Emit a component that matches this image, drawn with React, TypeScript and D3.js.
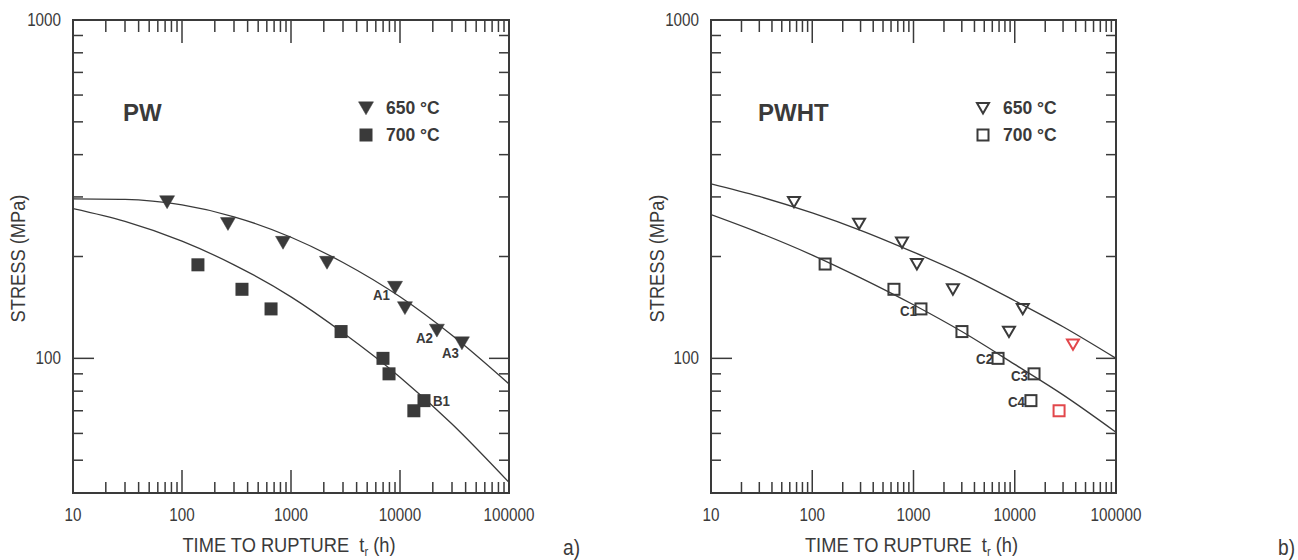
import React, { useEffect, useRef } from 'react';
import * as d3 from 'd3';

// axis ticks
const majorTimes = [10, 100, 1000, 10000, 100000];
const majorStress = [100, 1000];

// fitted curves at these times
const curveTimes = [10, 30, 100, 300, 1000, 3000, 10000, 30000, 100000];
const pwCurve650 = [296, 295, 284, 262, 228, 192, 152, 117, 84];
const pwCurve700 = [277, 254, 222, 189, 152, 119, 88, 64, 43];
const pwhtCurve650 = [328, 301, 269, 239, 206, 178, 148, 124, 100];
const pwhtCurve700 = [266, 235, 202, 173, 144, 120, 96, 78, 60.5];

// PW test points
const pwTime650 = [73, 264, 845, 2140, 9000, 11100, 21800, 37000];
const pwStress650 = [290, 250, 220, 192, 162, 141, 121, 111];
const pwLabel650 = ['', '', '', '', 'A1', '', 'A2', 'A3'];
const pwTime700 = [140, 355, 656, 2880, 6980, 7930, 16600, 13400];
const pwStress700 = [189, 160, 140, 120, 100, 90, 75, 70];
const pwLabel700 = ['', '', '', '', '', '', 'B1', ''];

// PWHT test points
const pwhtTime650 = [66, 290, 770, 1080, 2450, 8770, 12000, 37600];
const pwhtStress650 = [290, 250, 220, 190, 160, 120, 140, 110];
const pwhtRed650 = [false, false, false, false, false, false, false, true];
const pwhtTime700 = [134, 641, 1185, 3010, 6840, 15500, 14450, 27400];
const pwhtStress700 = [190, 160, 140, 120, 100, 90, 75, 70];
const pwhtLabel700 = ['', '', 'C1', '', 'C2', 'C3', 'C4', ''];
const pwhtRed700 = [false, false, false, false, false, false, false, true];

const INK = '#3a3a3a';
const RED = '#e2474b';
const FONT = '"Liberation Sans", Arial, sans-serif';

// label offsets from the point centre
const labelPos = {
  A1: [-5, 13, 'end'], A2: [-4, 13, 'end'], A3: [-3, 15, 'end'], B1: [9, 5, 'start'],
  C1: [-4, 7, 'end'], C2: [-5, 6, 'end'], C3: [-6, 7, 'end'], C4: [-6, 6, 'end'],
};

const triDown = (s) => `M${-s},${-s * 0.82}L${s},${-s * 0.82}L0,${s * 0.9}Z`;

// narrow-looking text: normal face squeezed horizontally
function narrowText(g, x, y, size, anchor, txt, rotate = 0) {
  const t = g.append('g')
    .attr('transform', `translate(${x},${y}) rotate(${rotate}) scale(0.87,1)`)
    .append('text')
    .attr('text-anchor', anchor)
    .attr('font-size', size).attr('fill', INK).attr('font-family', FONT)
    .attr('xml:space', 'preserve');
  if (txt != null) t.text(txt);
  return t;
}

function drawPanel(g, opt) {
  const { x0, x1, y0, y1 } = opt;
  const x = d3.scaleLog().domain([10, 100000]).range([x0, x1]);
  const y = d3.scaleLog().domain([40, 1000]).range([y1, y0]);

  // minor / major ticks
  const minorT = [];
  for (let d = 10; d < 100000; d *= 10) for (let k = 2; k <= 9; k++) minorT.push(d * k);
  const minorS = [50, 60, 70, 80, 90, 200, 300, 400, 500, 600, 700, 800, 900];
  const tk = g.append('g').attr('stroke', INK).attr('stroke-width', 1.5);
  minorT.forEach(t => {
    tk.append('line').attr('x1', x(t)).attr('x2', x(t)).attr('y1', y1).attr('y2', y1 - 11);
    tk.append('line').attr('x1', x(t)).attr('x2', x(t)).attr('y1', y0).attr('y2', y0 + 12);
  });
  [100, 1000, 10000].forEach(t => {
    tk.append('line').attr('x1', x(t)).attr('x2', x(t)).attr('y1', y1).attr('y2', y1 - 23);
    tk.append('line').attr('x1', x(t)).attr('x2', x(t)).attr('y1', y0).attr('y2', y0 + 23);
  });
  minorS.forEach(s => {
    tk.append('line').attr('x1', x0).attr('x2', x0 + 10).attr('y1', y(s)).attr('y2', y(s));
    tk.append('line').attr('x1', x1).attr('x2', x1 - 10).attr('y1', y(s)).attr('y2', y(s));
  });
  tk.append('line').attr('x1', x0).attr('x2', x0 + 21).attr('y1', y(100)).attr('y2', y(100));
  tk.append('line').attr('x1', x1).attr('x2', x1 - 20).attr('y1', y(100)).attr('y2', y(100));

  g.append('rect')
    .attr('x', x0).attr('y', y0).attr('width', x1 - x0).attr('height', y1 - y0)
    .attr('fill', 'none').attr('stroke', INK).attr('stroke-width', 2);

  // tick labels
  majorTimes.forEach(d => narrowText(g, x(d), y1 + 28, 17.5, 'middle', d));
  majorStress.forEach(d => narrowText(g, x0 - 12, y(d) + 6, 17.5, 'end', d));

  // axis titles
  const xt = narrowText(g, (x0 + x1) / 2 - 2, y1 + 59, 21, 'middle', null);
  xt.append('tspan').text('TIME TO RUPTURE  t');
  xt.append('tspan').attr('font-size', 13).attr('dy', 4).text('r');
  xt.append('tspan').attr('dy', -4).text(' (h)');

  narrowText(g, opt.yTitleX, (y0 + y1) / 2 + 2, 21, 'middle', 'STRESS (MPa)', -90);

  // curves
  const clipId = `clip-${opt.id}`;
  g.append('clipPath').attr('id', clipId)
    .append('rect').attr('x', x0).attr('y', y0).attr('width', x1 - x0).attr('height', y1 - y0);
  const line = d3.line().x(d => x(d[0])).y(d => y(d[1])).curve(d3.curveMonotoneX);
  opt.curves.forEach(c => {
    g.append('path')
      .attr('d', line(curveTimes.map((t, i) => [t, c[i]])))
      .attr('fill', 'none').attr('stroke', INK).attr('stroke-width', 1.3)
      .attr('clip-path', `url(#${clipId})`);
  });

  // points
  const open = opt.open;
  const pts650 = opt.t650.map((t, i) => ({ t, s: opt.s650[i], red: opt.red650 ? opt.red650[i] : false, label: opt.l650 ? opt.l650[i] : '' }));
  const pts700 = opt.t700.map((t, i) => ({ t, s: opt.s700[i], red: opt.red700 ? opt.red700[i] : false, label: opt.l700 ? opt.l700[i] : '' }));

  const triSize = open ? 6 : 7.5;
  g.selectAll('path.tri').data(pts650).join('path')
    .attr('class', 'tri')
    .attr('d', triDown(triSize))
    .attr('transform', d => `translate(${x(d.t)},${y(d.s)})`)
    .attr('fill', open ? 'none' : INK)
    .attr('stroke', d => (d.red ? RED : INK))
    .attr('stroke-width', open ? 2 : 0.5)
    .attr('stroke-linejoin', 'miter');

  const sq = open ? 11 : 13;
  g.selectAll('rect.sq').data(pts700).join('rect')
    .attr('class', 'sq')
    .attr('x', d => x(d.t) - sq / 2).attr('y', d => y(d.s) - sq / 2)
    .attr('width', sq).attr('height', sq)
    .attr('fill', open ? 'none' : INK)
    .attr('stroke', d => (d.red ? RED : open ? INK : 'none'))
    .attr('stroke-width', 2);

  [...pts650, ...pts700].filter(d => d.label).forEach(d => {
    const [dx, dy, anchor] = labelPos[d.label];
    g.append('text')
      .attr('x', x(d.t) + dx).attr('y', y(d.s) + dy)
      .attr('text-anchor', anchor)
      .attr('font-size', 15).attr('font-weight', 'bold')
      .attr('fill', INK).attr('font-family', FONT)
      .attr('textLength', 17).attr('lengthAdjust', 'spacingAndGlyphs')
      .text(d.label);
  });

  // panel name and legend
  g.append('text')
    .attr('x', opt.nameX).attr('y', 121)
    .attr('font-size', 24).attr('font-weight', 'bold')
    .attr('fill', INK).attr('font-family', FONT)
    .text(opt.name);

  const lx = opt.legendX;
  g.append('path').attr('d', triDown(triSize))
    .attr('transform', `translate(${lx},108)`)
    .attr('fill', open ? 'none' : INK).attr('stroke', INK).attr('stroke-width', open ? 2 : 0.5);
  g.append('rect').attr('x', lx - sq / 2).attr('y', 135 - sq / 2).attr('width', sq).attr('height', sq)
    .attr('fill', open ? 'none' : INK).attr('stroke', open ? INK : 'none').attr('stroke-width', 2);
  ['650 °C', '700 °C'].forEach((txt, i) => {
    g.append('text')
      .attr('x', lx + 20).attr('y', 114 + i * 27)
      .attr('font-size', 17.5).attr('font-weight', 'bold')
      .attr('fill', INK).attr('font-family', FONT)
      .text(txt);
  });

  narrowText(g, opt.tagX, 555, 22, 'start', opt.tag);
}

export default function App() {
  const ref = useRef(null);

  useEffect(() => {
    const svg = d3.select(ref.current);
    svg.selectAll('*').remove();

    drawPanel(svg.append('g'), {
      id: 'pw', x0: 73, x1: 509, y0: 20, y1: 493, yTitleX: 25,
      curves: [pwCurve650, pwCurve700],
      t650: pwTime650, s650: pwStress650, l650: pwLabel650,
      t700: pwTime700, s700: pwStress700, l700: pwLabel700,
      open: false, name: 'PW', nameX: 123, legendX: 366, tag: 'a)', tagX: 563,
    });

    drawPanel(svg.append('g'), {
      id: 'pwht', x0: 711, x1: 1116, y0: 20, y1: 493, yTitleX: 664,
      curves: [pwhtCurve650, pwhtCurve700],
      t650: pwhtTime650, s650: pwhtStress650, red650: pwhtRed650,
      t700: pwhtTime700, s700: pwhtStress700, l700: pwhtLabel700, red700: pwhtRed700,
      open: true, name: 'PWHT', nameX: 758, legendX: 983, tag: 'b)', tagX: 1278,
    });
  }, []);

  return (
    <svg
      ref={ref}
      width={1298}
      height={560}
      viewBox="0 0 1298 560"
      style={{ position: 'absolute', left: 0, top: 0, background: '#fff' }}
    />
  );
}
